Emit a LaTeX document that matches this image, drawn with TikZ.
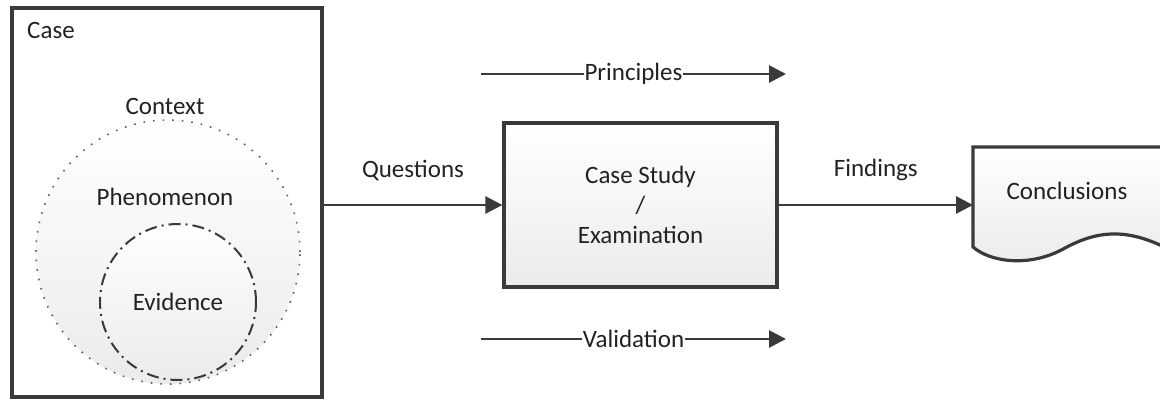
\documentclass[tikz,border=0pt]{standalone}
\usepackage{fontspec}
\setmainfont{Carlito}
\usetikzlibrary{arrows.meta,shadings}
\definecolor{ln}{HTML}{3A3A3A}
\definecolor{tx}{HTML}{222222}
\definecolor{lowg}{HTML}{EBEBEB}
\tikzset{
  box/.style={draw=ln, line width=3.2pt, top color=white, bottom color=lowg, inner sep=0pt},
  arr/.style={draw=ln, line width=2.8pt, -{Triangle[length=17pt,width=17pt]}},
  lbl/.style={text=tx, font=\fontsize{25}{29}\selectfont, inner sep=1pt},
  onl/.style={lbl, fill=white, inner sep=1pt},
  circ/.style={circle, inner sep=0pt, top color=white, bottom color=lowg},
}
\begin{document}
\begin{tikzpicture}[x=1pt,y=-1pt]
\useasboundingbox (0,0) rectangle (1160,401);
% Case box
\node[draw=ln, line width=3.2pt, fill=white, minimum width=310pt, minimum height=389pt, inner sep=0pt] (case) at (167,202.5) {};
\node[lbl, anchor=west] (caselbl) at (26,30) {Case};
% Context circle
\node[circ, draw=ln!80, dash pattern=on 1.6pt off 8pt, line width=1.6pt, minimum size=264pt] (ctx) at (168,252) {};
\node[lbl] (ctxlbl) at (165,106) {Context};
\node[lbl] (phen) at (165,197) {Phenomenon};
% Evidence circle
\node[circ, draw=ln, dash pattern=on 12pt off 5pt on 2pt off 5pt, line width=2pt, minimum size=156pt] (evi) at (178,302) {};
\node[lbl] (evilbl) at (178,302) {Evidence};
% Case study box
\node[box, minimum width=273pt, minimum height=164pt, align=center, lbl] (cs) at (640.5,205) {Case Study\\[1pt]/\\[1pt]Examination};
% Conclusions document
\coordinate (dtl) at (973,147);
\path[box] (dtl) -- (1170,147) -- (1170,250)
  .. controls (1125,226) and (1095,232) .. (1065,248)
  .. controls (1030,268) and (990,262) .. (973,247) -- cycle;
\node[lbl] (concl) at (1067,191) {Conclusions};
\coordinate (concin) at (973,205);
% Connectors
\draw[arr] (case.east |- cs.west) -- node[lbl, above=22pt] (q) {Questions} (cs.west);
\draw[arr] (cs.east) -- node[lbl, above=22pt] (f) {Findings} (concin);
% Principles / Validation
\coordinate (p1) at (481,74);
\coordinate (p2) at (786,74);
\draw[arr] (p1) -- node[onl] (pl) {Principles} (p2);
\coordinate (v1) at (481,339);
\coordinate (v2) at (786,339);
\draw[arr] (v1) -- node[onl] (vl) {Validation} (v2);
\end{tikzpicture}
\end{document}
